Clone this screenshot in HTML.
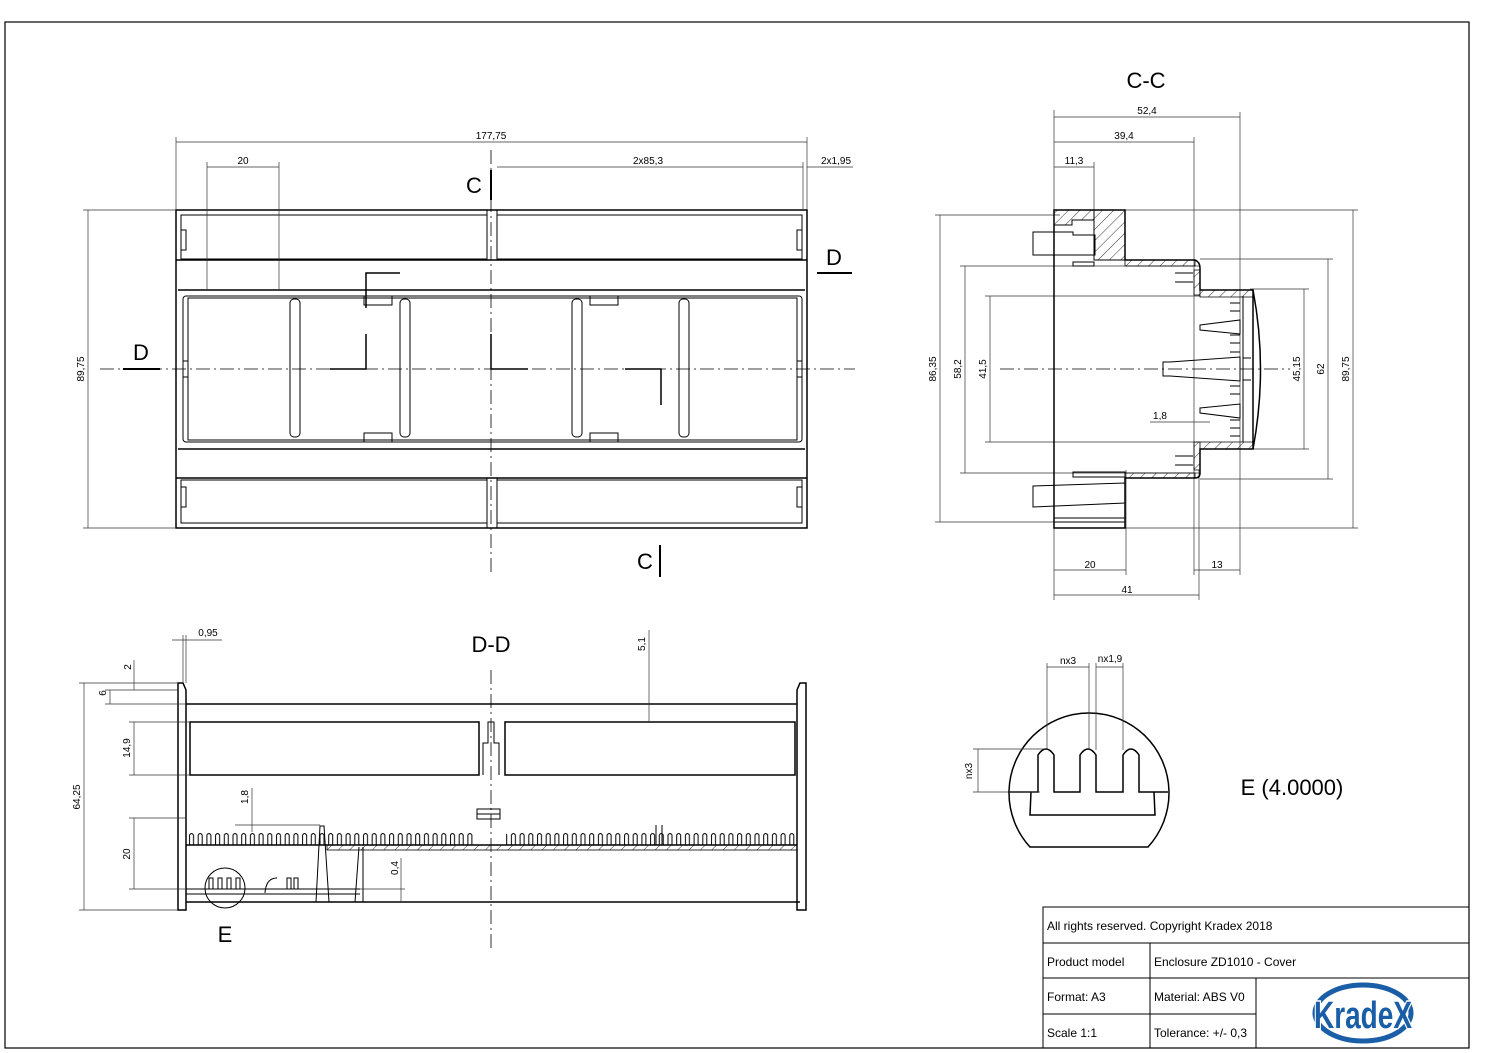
<!DOCTYPE html>
<html><head><meta charset="utf-8"><style>
html,body{margin:0;padding:0;background:#fff}
svg{display:block}
text{font-family:"Liberation Sans",sans-serif;fill:#000}
.o{fill:none;stroke:#000;stroke-width:1.5}
.t{fill:none;stroke:#000;stroke-width:1}
.d{fill:none;stroke:#333;stroke-width:0.7}
.c{fill:none;stroke:#000;stroke-width:0.8;stroke-dasharray:14 4 2 4}
.s{font-size:10px}
</style></head><body>
<svg width="1489" height="1053" viewBox="0 0 1489 1053" xmlns="http://www.w3.org/2000/svg">
<defs>
<pattern id="teeth" x="188" y="832" width="8.7" height="13" patternUnits="userSpaceOnUse">
<path d="M1.5 13 V3 Q3.5 0 5.5 3 V13" fill="none" stroke="#000" stroke-width="1"/>
</pattern>
<pattern id="hat" width="8" height="8" patternUnits="userSpaceOnUse" patternTransform="rotate(45)">
<line x1="0" y1="0" x2="0" y2="8" stroke="#000" stroke-width="0.8"/>
</pattern>
</defs>
<rect x="5" y="22" width="1464" height="1026" fill="none" stroke="#000" stroke-width="1.2"/>

<!-- TOP VIEW -->
<g>
<rect x="176" y="210" width="631" height="318" class="o"/>
<rect x="181" y="215" width="306" height="44" class="t"/>
<rect x="497" y="215" width="305" height="44" class="t"/>
<rect x="181" y="480" width="306" height="43" class="t"/>
<rect x="497" y="480" width="305" height="43" class="t"/>
<line x1="487" y1="210" x2="487" y2="260" class="t"/><line x1="497" y1="210" x2="497" y2="260" class="t"/>
<line x1="487" y1="478" x2="487" y2="528" class="t"/><line x1="497" y1="478" x2="497" y2="528" class="t"/>
<line x1="176" y1="260" x2="807" y2="260" class="o"/>
<line x1="178" y1="290" x2="805" y2="290" class="o"/>
<line x1="178" y1="449" x2="805" y2="449" class="o"/>
<line x1="176" y1="478" x2="807" y2="478" class="o"/>
<rect x="183" y="296" width="619" height="146" rx="3" class="t"/>
<rect x="188" y="298" width="609" height="142" class="t"/>
<rect x="181" y="230" width="5" height="20" class="t"/><rect x="797" y="230" width="5" height="20" class="t"/>
<rect x="181" y="487" width="5" height="20" class="t"/><rect x="797" y="487" width="5" height="20" class="t"/>
<rect x="183" y="361" width="5" height="16" class="t"/><rect x="797" y="361" width="5" height="16" class="t"/>
<g class="t">
<rect x="290" y="299" width="10" height="138" rx="4"/>
<rect x="400" y="299" width="10" height="138" rx="4"/>
<rect x="572" y="299" width="10" height="138" rx="4"/>
<rect x="679" y="299" width="10" height="138" rx="4"/>
<rect x="364" y="296" width="28" height="9"/><rect x="590" y="296" width="28" height="9"/>
<rect x="364" y="433" width="28" height="9"/><rect x="590" y="433" width="28" height="9"/>
</g>
<path d="M400 273 H366 V308 M366 334 V369 H330 M491 334 V369 H528 M625 369 H661 V405" class="o"/>
<line x1="491" y1="150" x2="491" y2="575" class="c"/>
<line x1="100" y1="369" x2="855" y2="369" class="c"/>
<line x1="207" y1="162" x2="207" y2="290" class="d"/><line x1="279" y1="162" x2="279" y2="290" class="d"/>
<line x1="176" y1="137" x2="176" y2="210" class="d"/><line x1="807" y1="137" x2="807" y2="210" class="d"/>
<line x1="803" y1="162" x2="803" y2="210" class="d"/>
<line x1="176" y1="142" x2="807" y2="142" class="d"/><text x="491" y="139" class="s" text-anchor="middle">177,75</text>
<line x1="207" y1="167" x2="279" y2="167" class="d"/><text x="243" y="164" class="s" text-anchor="middle">20</text>
<line x1="497" y1="167" x2="803" y2="167" class="d"/><text x="648" y="164" class="s" text-anchor="middle">2x85,3</text>
<line x1="807" y1="167" x2="853" y2="167" class="d"/><text x="836" y="164" class="s" text-anchor="middle">2x1,95</text>
<line x1="83" y1="210" x2="176" y2="210" class="d"/><line x1="83" y1="528" x2="176" y2="528" class="d"/>
<line x1="88" y1="210" x2="88" y2="528" class="d"/><text transform="translate(84,369) rotate(-90)" class="s" text-anchor="middle">89,75</text>
<text x="474" y="193" font-size="22" text-anchor="middle">C</text><line x1="491" y1="170" x2="491" y2="200" stroke="#000" stroke-width="2"/>
<text x="645" y="569" font-size="22" text-anchor="middle">C</text><line x1="660" y1="545" x2="660" y2="577" stroke="#000" stroke-width="2"/>
<text x="141" y="360" font-size="22" text-anchor="middle">D</text><line x1="123" y1="369" x2="160" y2="369" stroke="#000" stroke-width="2"/>
<text x="834" y="265" font-size="22" text-anchor="middle">D</text><line x1="817" y1="273" x2="852" y2="273" stroke="#000" stroke-width="2"/>
</g>

<!-- C-C -->
<g>
<text x="1146" y="88" font-size="22" text-anchor="middle">C-C</text>
<line x1="1054" y1="110" x2="1054" y2="600" class="d"/>
<line x1="1240" y1="112" x2="1240" y2="575" class="d"/>
<line x1="1194" y1="137" x2="1194" y2="575" class="d"/>
<line x1="1094" y1="162" x2="1094" y2="210" class="d"/>
<line x1="1054" y1="117" x2="1240" y2="117" class="d"/><text x="1147" y="114" class="s" text-anchor="middle">52,4</text>
<line x1="1054" y1="142" x2="1194" y2="142" class="d"/><text x="1124" y="139" class="s" text-anchor="middle">39,4</text>
<line x1="1054" y1="167" x2="1094" y2="167" class="d"/><text x="1074" y="164" class="s" text-anchor="middle">11,3</text>
<line x1="935" y1="215" x2="1060" y2="215" class="d"/><line x1="935" y1="522" x2="1060" y2="522" class="d"/>
<line x1="960" y1="266" x2="1200" y2="266" class="d"/><line x1="960" y1="473" x2="1200" y2="473" class="d"/>
<line x1="985" y1="296" x2="1200" y2="296" class="d"/><line x1="985" y1="442" x2="1200" y2="442" class="d"/>
<line x1="1100" y1="210" x2="1358" y2="210" class="d"/><line x1="1100" y1="528" x2="1358" y2="528" class="d"/>
<line x1="1200" y1="259" x2="1333" y2="259" class="d"/><line x1="1200" y1="479" x2="1333" y2="479" class="d"/>
<line x1="1250" y1="289" x2="1309" y2="289" class="d"/><line x1="1250" y1="449" x2="1309" y2="449" class="d"/>
<line x1="940" y1="215" x2="940" y2="522" class="d"/><text transform="translate(936,369) rotate(-90)" class="s" text-anchor="middle">86,35</text>
<line x1="965" y1="266" x2="965" y2="473" class="d"/><text transform="translate(961,369) rotate(-90)" class="s" text-anchor="middle">58,2</text>
<line x1="990" y1="296" x2="990" y2="442" class="d"/><text transform="translate(986,369) rotate(-90)" class="s" text-anchor="middle">41,5</text>
<line x1="1304" y1="289" x2="1304" y2="449" class="d"/><text transform="translate(1300,369) rotate(-90)" class="s" text-anchor="middle">45,15</text>
<line x1="1328" y1="259" x2="1328" y2="479" class="d"/><text transform="translate(1324,369) rotate(-90)" class="s" text-anchor="middle">62</text>
<line x1="1353" y1="210" x2="1353" y2="528" class="d"/><text transform="translate(1349,369) rotate(-90)" class="s" text-anchor="middle">89,75</text>
<line x1="1126" y1="470" x2="1126" y2="575" class="d"/><line x1="1199" y1="470" x2="1199" y2="600" class="d"/>
<line x1="1054" y1="570" x2="1126" y2="570" class="d"/><text x="1090" y="568" class="s" text-anchor="middle">20</text>
<line x1="1194" y1="570" x2="1240" y2="570" class="d"/><text x="1217" y="568" class="s" text-anchor="middle">13</text>
<line x1="1054" y1="595" x2="1199" y2="595" class="d"/><text x="1127" y="593" class="s" text-anchor="middle">41</text>
<line x1="1000" y1="369" x2="1290" y2="369" class="c"/>
<!-- section body -->
<path d="M1054 210 H1125 V260 H1195 Q1200 262 1200 268 V290 H1253 V449 H1200 V473 Q1200 478 1195 478 H1125 V528 H1054 Z" class="o"/>
<path d="M1094 210 H1125 V260 H1094 Z M1054 210 H1094 V220 H1072 V225 H1054 Z" fill="url(#hat)" stroke="#000" stroke-width="1"/>
<path d="M1125 260 H1195 V266 H1125 Z M1200 290 H1253 V297 H1200 Z M1200 442 H1253 V449 H1200 Z M1125 473 H1195 V478 H1125 Z M1194 270 H1200 V295 H1194 Z M1194 442 H1200 V470 H1194 Z" fill="url(#hat)" stroke="#000" stroke-width="0.8"/>
<path d="M1253 290 Q1268 369 1253 449" class="o"/>
<line x1="1243" y1="296" x2="1243" y2="442" class="t"/>
<path d="M1033 232 H1073 V235 H1095 V255 H1073 H1033 Z" class="t"/>
<path d="M1073 262 H1094 V266 H1073 Z M1073 472 H1125 V477 H1073 Z" class="t"/>
<path d="M1033 486 L1125 483 V503 L1033 507 Z" class="t"/>
<path d="M1054 522 H1125 M1054 518 H1125" class="t"/>
<path d="M1163 362 H1170 L1240 357 V381 L1170 376 H1163 Z" class="t"/>
<path d="M1200 325 L1240 320 V334 L1200 330 Z M1200 408 L1240 404 V418 L1200 413 Z" class="t"/>
<g class="t">
<path d="M1230 303 h10 M1230 311 h10 M1230 335 h10 M1230 343 h10 M1230 352 h10 M1230 386 h10 M1230 394 h10 M1230 420 h10 M1230 428 h10 M1230 436 h10"/>
<path d="M1175 273 h18 M1175 282 h18 M1175 456 h18 M1175 465 h18"/>
<path d="M1243 358 h8 M1243 380 h8"/>
</g>
<line x1="1150" y1="422" x2="1210" y2="422" class="d"/><text x="1160" y="419" class="s" text-anchor="middle">1,8</text>
</g>

<!-- D-D -->
<g>
<text x="491" y="652" font-size="22" text-anchor="middle">D-D</text>
<line x1="491" y1="670" x2="491" y2="948" class="c"/>
<path d="M178 910 V683 H183 L186 690 V910 Z" class="o" fill="url(#hat)"/>
<path d="M797 910 V690 L800 683 H806 V910 Z" class="o" fill="url(#hat)"/>
<line x1="186" y1="704" x2="797" y2="704" class="o"/>
<rect x="190" y="722" width="289" height="53" class="o"/>
<rect x="505" y="722" width="290" height="53" class="o"/>
<path d="M483 775 V743 H488 V722 H494 V743 H499 V775" class="t"/>
<rect x="477" y="809" width="23" height="10" class="t"/><line x1="477" y1="814" x2="500" y2="814" class="t"/>
<rect x="188" y="832" width="285" height="13" fill="url(#teeth)"/>
<rect x="506" y="832" width="290" height="13" fill="url(#teeth)"/>
<line x1="186" y1="845" x2="797" y2="845" class="o"/>
<rect x="327" y="845" width="470" height="5" fill="url(#hat)" stroke="#000" stroke-width="0.8"/>
<line x1="186" y1="902" x2="800" y2="902" class="o"/>
<path d="M316 902 L320 826 H324 L329 902" class="t"/>
<path d="M355 902 L359 847 M363 847 V902" class="t"/>
<path d="M186 889 H360 M186 894 H360" class="t"/>
<path d="M265 893 Q266 878 277 878 M287 889 V878 h4 v11 M294 889 V878 h4 v11" class="t"/>
<line x1="656" y1="825" x2="656" y2="845" class="t"/><line x1="662" y1="825" x2="662" y2="845" class="t"/>
<circle cx="225" cy="888" r="20" class="t"/>
<path d="M209 889 V878 h4 v11 M218 889 V878 h4 v11 M227 889 V878 h4 v11 M236 889 V878 h4 v11" class="t"/>
<text x="225" y="942" font-size="22" text-anchor="middle">E</text>
<line x1="79" y1="683" x2="178" y2="683" class="d"/><line x1="79" y1="910" x2="178" y2="910" class="d"/>
<line x1="84" y1="683" x2="84" y2="910" class="d"/><text transform="translate(80,797) rotate(-90)" class="s" text-anchor="middle">64,25</text>
<line x1="105" y1="690" x2="178" y2="690" class="d"/><line x1="105" y1="704" x2="186" y2="704" class="d"/>
<line x1="110" y1="690" x2="110" y2="704" class="d"/><text transform="translate(106,693) rotate(-90)" class="s" text-anchor="middle">6</text>
<line x1="134" y1="660" x2="134" y2="690" class="d"/><text transform="translate(131,667) rotate(-90)" class="s" text-anchor="middle">2</text>
<line x1="129" y1="722" x2="190" y2="722" class="d"/><line x1="129" y1="775" x2="190" y2="775" class="d"/>
<line x1="134" y1="722" x2="134" y2="775" class="d"/><text transform="translate(130,748) rotate(-90)" class="s" text-anchor="middle">14,9</text>
<line x1="129" y1="818" x2="186" y2="818" class="d"/><line x1="129" y1="889" x2="186" y2="889" class="d"/>
<line x1="134" y1="818" x2="134" y2="889" class="d"/><text transform="translate(130,854) rotate(-90)" class="s" text-anchor="middle">20</text>
<line x1="252" y1="788" x2="252" y2="832" class="d"/><line x1="235" y1="825" x2="320" y2="825" class="d"/><text transform="translate(248,797) rotate(-90)" class="s" text-anchor="middle">1,8</text>
<line x1="401" y1="858" x2="401" y2="902" class="d"/><line x1="360" y1="889" x2="405" y2="889" class="d"/><text transform="translate(398,868) rotate(-90)" class="s" text-anchor="middle">0,4</text>
<line x1="649" y1="630" x2="649" y2="722" class="d"/><text transform="translate(645,644) rotate(-90)" class="s" text-anchor="middle">5,1</text>
<line x1="183" y1="635" x2="183" y2="683" class="d"/><line x1="186" y1="635" x2="186" y2="683" class="d"/>
<line x1="172" y1="640" x2="222" y2="640" class="d"/><text x="208" y="636" class="s" text-anchor="middle">0,95</text>
</g>

<!-- Detail E -->
<g>
<path d="M1030 847 A80 80 0 1 1 1148 847 Z" class="o"/>
<path d="M1008 792 H1038 V755 Q1046 743 1054 755 V792 H1080 V755 Q1088 743 1096 755 V792 H1123 V755 Q1131 743 1139 755 V792 H1168" class="o"/>
<path d="M1031 792 L1030 815 H1155 L1154 792" class="o"/>
<line x1="1047" y1="663" x2="1047" y2="750" class="d"/><line x1="1089" y1="663" x2="1089" y2="750" class="d"/>
<line x1="1096" y1="663" x2="1096" y2="750" class="d"/><line x1="1123" y1="663" x2="1123" y2="750" class="d"/>
<line x1="1047" y1="667" x2="1089" y2="667" class="d"/><text x="1068" y="664" class="s" text-anchor="middle">nx3</text>
<line x1="1096" y1="667" x2="1123" y2="667" class="d"/><text x="1110" y="662" class="s" text-anchor="middle">nx1,9</text>
<line x1="973" y1="749" x2="1045" y2="749" class="d"/><line x1="973" y1="792" x2="1040" y2="792" class="d"/>
<line x1="978" y1="749" x2="978" y2="792" class="d"/><text transform="translate(972,771) rotate(-90)" class="s" text-anchor="middle">nx3</text>
<text x="1292" y="795" font-size="22" text-anchor="middle">E (4.0000)</text>
</g>

<!-- Title block -->
<g>
<rect x="1043" y="907" width="426" height="141" fill="none" stroke="#000" stroke-width="1"/>
<line x1="1043" y1="943" x2="1469" y2="943" stroke="#000"/>
<line x1="1043" y1="978" x2="1469" y2="978" stroke="#000"/>
<line x1="1043" y1="1014" x2="1256" y2="1014" stroke="#000"/>
<line x1="1150" y1="943" x2="1150" y2="1048" stroke="#000"/>
<line x1="1256" y1="978" x2="1256" y2="1048" stroke="#000"/>
<text x="1047" y="930" font-size="12">All rights reserved. Copyright Kradex 2018</text>
<text x="1047" y="966" font-size="12">Product model</text>
<text x="1154" y="966" font-size="12">Enclosure ZD1010 - Cover</text>
<text x="1047" y="1001" font-size="12">Format: A3</text>
<text x="1154" y="1001" font-size="12">Material: ABS V0</text>
<text x="1047" y="1037" font-size="12">Scale 1:1</text>
<text x="1154" y="1037" font-size="12">Tolerance: +/- 0,3</text>
<ellipse cx="1363" cy="1013" rx="48" ry="28" fill="none" stroke="#1a5ea8" stroke-width="5"/>
<text x="1363" y="1028" font-size="38" font-weight="bold" text-anchor="middle" style="fill:#1a5ea8;stroke:#fff;stroke-width:3;paint-order:stroke" textLength="98" lengthAdjust="spacingAndGlyphs">KradeX</text>
</g>
</svg>
</body></html>
